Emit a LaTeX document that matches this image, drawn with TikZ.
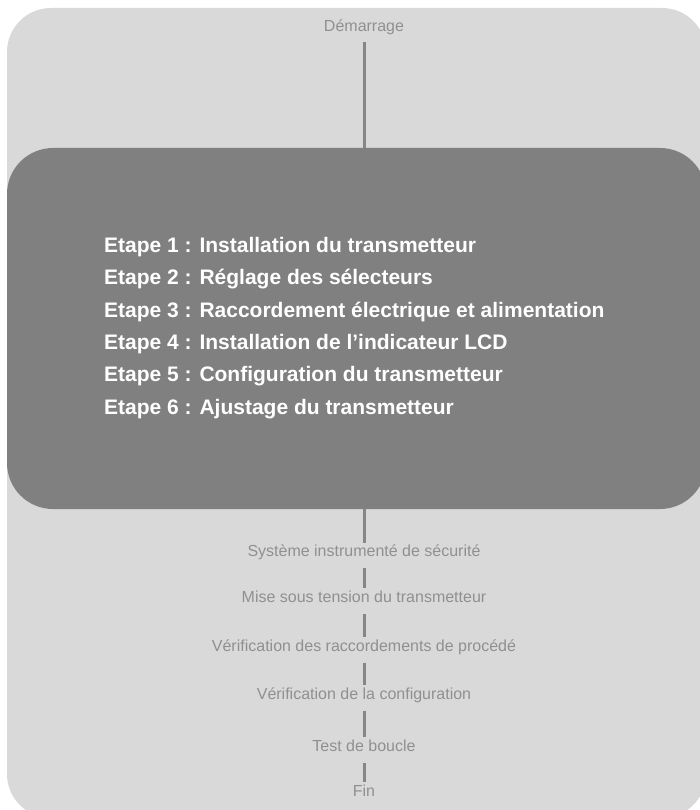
\documentclass[tikz,border=0pt]{standalone}
\usepackage{fontspec}
\setmainfont{Liberation Sans}
\usepackage{tikz}
\usetikzlibrary{positioning}
\definecolor{fondclair}{HTML}{D9D9D9}
\definecolor{fondfonce}{HTML}{808080}
\definecolor{traitgris}{HTML}{868686}
\definecolor{textegris}{HTML}{909090}
\tikzset{
  etat/.style={font=\fontsize{16}{16}\selectfont, text=textegris, inner sep=0pt, text height=12pt, text depth=3.5pt},
  etape/.style={font=\fontsize{21}{21}\selectfont\bfseries, text=white, inner sep=0pt, anchor=west},
  lien/.style={draw=traitgris, line width=3pt, shorten <=8pt, shorten >=2pt}
}
\begin{document}
\begin{tikzpicture}[x=1pt,y=-1pt]
			\useasboundingbox (0,0) rectangle (700,810);
			\clip (0,0) rectangle (700,810);
			% fond clair
			\fill[fondclair, rounded corners=44pt] (7,8) rectangle (706,818);
			% bloc des etapes
			\node[fill=fondfonce, rounded corners=46pt, minimum width=699pt, minimum height=361pt, inner sep=0pt] (bloc) at (356.5,328.5) {};
			\foreach \n/\txt in {1/Installation du transmetteur, 2/Réglage des sélecteurs, 3/Raccordement électrique et alimentation, 4/Installation de l’indicateur LCD, 5/Configuration du transmetteur, 6/Ajustage du transmetteur}
				\node[etape] (e\n) at (104,{247+32.4*(\n-1)}) {Etape \n{} : \txt};
			% etats
			\node[etat] (dem) at (364,27) {Démarrage};
			\node[etat] (sis) at (364,552) {Système instrumenté de sécurité};
			\node[etat] (tension) at (364,598) {Mise sous tension du transmetteur};
			\node[etat] (procede) at (364,647) {Vérification des raccordements de procédé};
			\node[etat] (config) at (364,695) {Vérification de la configuration};
			\node[etat] (boucle) at (364,747) {Test de boucle};
			\node[etat] (fin) at (364,792) {Fin};
			% liens
			\draw[lien, shorten <=7pt, shorten >=0pt] (dem) -- (dem |- bloc.north);
			\draw[lien, shorten <=0pt, shorten >=1pt] (sis |- bloc.south) -- (sis);
			\draw[lien] (sis) -- (tension);
			\draw[lien] (tension) -- (procede);
			\draw[lien] (procede) -- (config);
			\draw[lien] (config) -- (boucle);
			\draw[lien] (boucle) -- (fin);
		\end{tikzpicture}
\end{document}
